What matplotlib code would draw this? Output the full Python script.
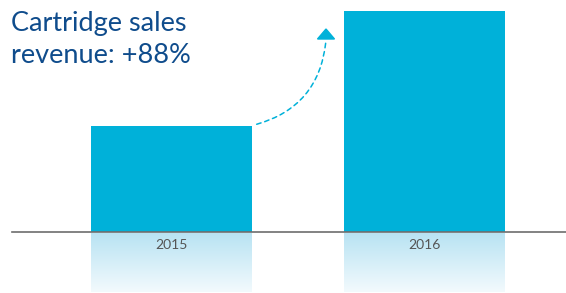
import numpy as np
import matplotlib
matplotlib.use("Agg")
import matplotlib.pyplot as plt
from matplotlib.patches import Polygon, FancyArrowPatch
from matplotlib.colors import LinearSegmentedColormap

# data
categories = ["2015", "2016"]
values = [106, 221]          # relative revenue (bar heights)
title_text = "Cartridge sales\nrevenue: +88%"

BAR = "#00b1d9"
TITLE = "#0f4c8c"

fig = plt.figure(figsize=(5.66, 2.93), dpi=100)
ax = fig.add_axes([0, 0, 1, 1])
ax.set_axis_off()

pxu = 1 / 253.0  # x units per pixel
x = np.arange(len(categories))
width = 161 * pxu
ax.bar(x, values, width=width, color=BAR, zorder=3)

# reflection gradients
cmap = LinearSegmentedColormap.from_list("refl", ["#b8e3f3", "#f3fafd"])
grad = np.linspace(0, 1, 256).reshape(-1, 1)
for xi in x:
    ax.imshow(grad, cmap=cmap, aspect="auto", zorder=1,
              extent=(xi - width / 2, xi + width / 2, -60, -1), origin="upper")

ax.set_xlim(-171.5 * pxu, (566 - 171.5) * pxu)
ax.set_ylim(-61, 232)

# baseline
ax.axhline(0, xmin=12 / 566, xmax=1, color="#6d6d6d", lw=1.2, zorder=4)

# tick labels
for xi, lab in zip(x, categories):
    ax.text(xi, -13, lab, ha="center", va="center", fontsize=10,
            color="#555555", family="Lato", zorder=5)

# title
fig.text(11 / 566, 1 - 11 / 293, title_text, ha="left", va="top",
         fontsize=19.5, color=TITLE, family="Lato", linespacing=1.33)

# dashed curved arrow
x_start = x[0] + width / 2 + 2 * pxu
y_start = values[0] + 1
x_end = x[1] - 98.5 * pxu
y_end = values[1] - 29
arr = FancyArrowPatch((x_start, y_start), (x_end, y_end),
                      connectionstyle="arc3,rad=0.35", arrowstyle="-",
                      color=BAR, lw=1.1, linestyle=(0, (3, 2.5)), zorder=5)
ax.add_patch(arr)
tri = Polygon([(x_end - 8.5 * pxu, y_end + 1), (x_end + 8.5 * pxu, y_end + 1),
               (x_end, y_end + 11)], closed=True, color=BAR, zorder=5)
ax.add_patch(tri)

fig.savefig("out.png", dpi=100)
